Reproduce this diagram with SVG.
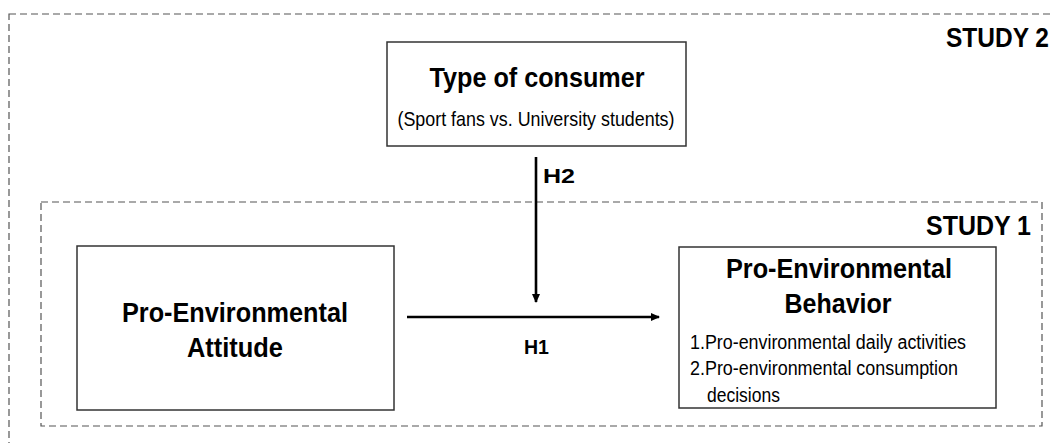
<svg xmlns="http://www.w3.org/2000/svg" width="1051" height="443" viewBox="0 0 1051 443">
<style>
.bg{fill:#ffffff}
.dash{fill:none;stroke:#555;stroke-width:1.2;stroke-dasharray:7,4}
.box{fill:#fff;stroke:#333;stroke-width:1.5}
.t{font-family:"Liberation Sans",Arial,sans-serif;fill:#000}
.b{font-weight:bold}
.c{text-anchor:middle}
.edge{stroke:#000;stroke-width:2.6;fill:none}
</style>
<defs>
<marker id="ah" markerWidth="10" markerHeight="10" refX="8" refY="5" orient="auto" markerUnits="userSpaceOnUse">
<path d="M0,1 L9,5 L0,9 Z" fill="#000"/>
</marker>
</defs>
<rect class="bg" x="0" y="0" width="1051" height="443"/>
<g id="study2">
<rect class="dash" x="9" y="14" width="1060" height="450"/>
<text class="t b" x="946" y="47" font-size="27" textLength="103" lengthAdjust="spacingAndGlyphs">STUDY 2</text>
</g>
<g id="study1">
<rect class="dash" x="41" y="202" width="1001" height="224"/>
<text class="t b" x="926" y="235" font-size="27" textLength="105" lengthAdjust="spacingAndGlyphs">STUDY 1</text>
</g>
<g id="type-of-consumer">
<rect class="box" x="387" y="42" width="299" height="104"/>
<text class="t b c" x="537" y="87" font-size="27" textLength="215" lengthAdjust="spacingAndGlyphs">Type of consumer</text>
<text class="t c" x="536" y="126" font-size="21" textLength="277" lengthAdjust="spacingAndGlyphs">(Sport fans vs. University students)</text>
</g>
<g id="attitude">
<rect class="box" x="77" y="246" width="317" height="164"/>
<text class="t b c" x="235" y="322" font-size="27" textLength="226" lengthAdjust="spacingAndGlyphs">Pro-Environmental</text>
<text class="t b c" x="235" y="357" font-size="27" textLength="96" lengthAdjust="spacingAndGlyphs">Attitude</text>
</g>
<g id="behavior">
<rect class="box" x="679" y="247" width="317" height="161"/>
<text class="t b c" x="839" y="278" font-size="27" textLength="226" lengthAdjust="spacingAndGlyphs">Pro-Environmental</text>
<text class="t b c" x="838" y="313" font-size="27" textLength="107" lengthAdjust="spacingAndGlyphs">Behavior</text>
<text class="t" x="690" y="349" font-size="20" textLength="276" lengthAdjust="spacingAndGlyphs">1.Pro-environmental daily activities</text>
<text class="t" x="690" y="375" font-size="20" textLength="268" lengthAdjust="spacingAndGlyphs">2.Pro-environmental consumption</text>
<text class="t" x="707" y="402" font-size="20" textLength="73" lengthAdjust="spacingAndGlyphs">decisions</text>
</g>
<g id="connectors">
<line class="edge" x1="536" y1="157" x2="536" y2="302" marker-end="url(#ah)"/>
<text class="t b" x="543" y="183" font-size="21" textLength="32" lengthAdjust="spacingAndGlyphs">H2</text>
<line class="edge" x1="407" y1="317" x2="659" y2="317" marker-end="url(#ah)"/>
<text class="t b" x="524" y="354" font-size="20" textLength="25" lengthAdjust="spacingAndGlyphs">H1</text>
</g>
</svg>
